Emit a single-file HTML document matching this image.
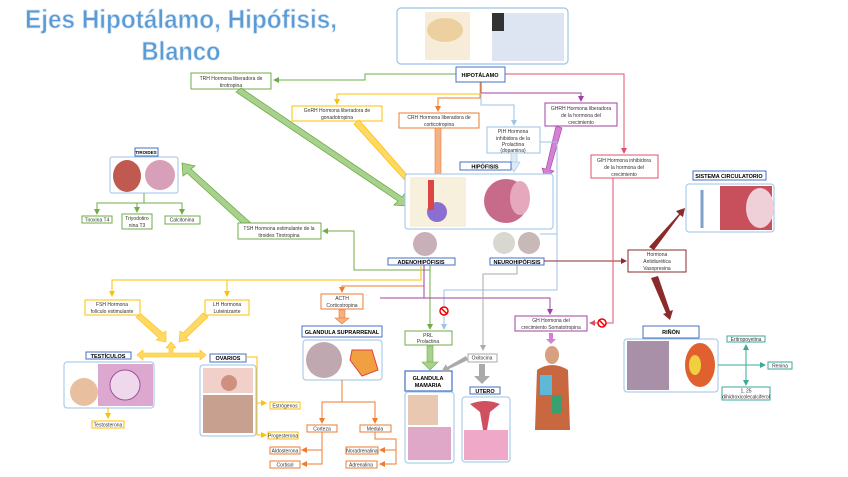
<!DOCTYPE html>
<html><head><meta charset="utf-8"><style>
html,body{margin:0;padding:0;background:#fff;width:848px;height:477px;overflow:hidden}
svg{display:block}
text{font-family:"Liberation Sans",sans-serif}
.t{font-size:5px;fill:#333;text-anchor:middle}
.lb{font-size:5.5px;font-weight:bold;fill:#000;text-anchor:middle}
</style></head><body>
<svg width="848" height="477" viewBox="0 0 848 477" xmlns="http://www.w3.org/2000/svg">
<defs>
<marker id="ag" markerWidth="6" markerHeight="6" refX="5" refY="3" orient="auto"><path d="M0,0L6,3L0,6z" fill="#70ad47"/></marker>
<marker id="ay" markerWidth="6" markerHeight="6" refX="5" refY="3" orient="auto"><path d="M0,0L6,3L0,6z" fill="#ffc000"/></marker>
<marker id="ao" markerWidth="6" markerHeight="6" refX="5" refY="3" orient="auto"><path d="M0,0L6,3L0,6z" fill="#ed7d31"/></marker>
<marker id="ab" markerWidth="6" markerHeight="6" refX="5" refY="3" orient="auto"><path d="M0,0L6,3L0,6z" fill="#9dc3e6"/></marker>
<marker id="ap" markerWidth="6" markerHeight="6" refX="5" refY="3" orient="auto"><path d="M0,0L6,3L0,6z" fill="#a040a0"/></marker>
<marker id="ak" markerWidth="6" markerHeight="6" refX="5" refY="3" orient="auto"><path d="M0,0L6,3L0,6z" fill="#e0506e"/></marker>
<marker id="ar" markerWidth="6" markerHeight="6" refX="5" refY="3" orient="auto"><path d="M0,0L6,3L0,6z" fill="#8b2a2a"/></marker>
<marker id="aa" markerWidth="6" markerHeight="6" refX="5" refY="3" orient="auto"><path d="M0,0L6,3L0,6z" fill="#aaa"/></marker>
<marker id="at" markerWidth="6" markerHeight="6" refX="5" refY="3" orient="auto"><path d="M0,0L6,3L0,6z" fill="#3aaa9a"/></marker>
</defs>

<!-- Title -->
<text x="181" y="28" style="font-size:26px;font-weight:bold;fill:#5b9bd5;stroke:#dbe8f6;stroke-width:0.8;text-anchor:middle" textLength="312" lengthAdjust="spacingAndGlyphs">Ejes Hipotálamo, Hipófisis,</text>
<text x="181" y="60" style="font-size:26px;font-weight:bold;fill:#5b9bd5;stroke:#dbe8f6;stroke-width:0.8;text-anchor:middle" textLength="79" lengthAdjust="spacingAndGlyphs">Blanco</text>

<!-- top image -->
<rect x="397" y="8" width="171" height="56" rx="4" fill="#fff" stroke="#9dc3e6" stroke-width="1.2"/>
<rect x="425" y="12" width="45" height="48" fill="#f7ecd8"/>
<ellipse cx="445" cy="30" rx="18" ry="12" fill="#ecd0a0"/>
<rect x="492" y="13" width="72" height="48" fill="#dde4f2"/>
<rect x="492" y="13" width="12" height="18" fill="#333"/>

<!-- lines from hipotalamo -->
<polyline points="456,74 365,74 365,80 274,80" fill="none" stroke="#70ad47" stroke-width="1" marker-end="url(#ag)"/>
<polyline points="480,82 480,94 337,94 337,104" fill="none" stroke="#ffc000" stroke-width="1" marker-end="url(#ay)"/>
<polyline points="480,94 480,98 438,98 438,111" fill="none" stroke="#ed7d31" stroke-width="1" marker-end="url(#ao)"/>
<polyline points="481,94 481,105 514,105 514,125" fill="none" stroke="#9dc3e6" stroke-width="1" marker-end="url(#ab)"/>
<polyline points="481,82 481,93 581,93 581,101" fill="none" stroke="#a040a0" stroke-width="1" marker-end="url(#ap)"/>
<polyline points="505,74 624,74 624,153" fill="none" stroke="#e0506e" stroke-width="1" marker-end="url(#ak)"/>

<rect x="456" y="67" width="49" height="15" fill="#fff" stroke="#4472c4" stroke-width="1"/>
<text class="lb" x="480" y="77">HIPOTÁLAMO</text>

<rect x="191" y="73" width="80" height="16" fill="#fff" stroke="#70ad47"/>
<text class="t" x="231" y="80">TRH Hormona liberadora de</text><text class="t" x="231" y="87">tirotropina</text>
<rect x="292" y="106" width="90" height="15" fill="#fff" stroke="#ffc000"/>
<text class="t" x="337" y="112">GnRH Hormona liberadora de</text><text class="t" x="337" y="119">gonadotropina</text>
<rect x="399" y="113" width="80" height="15" fill="#fff" stroke="#ed7d31"/>
<text class="t" x="439" y="119">CRH Hormona liberadora de</text><text class="t" x="439" y="126">corticotropina</text>
<rect x="487" y="127" width="53" height="26" fill="#fff" stroke="#9dc3e6"/>
<text class="t" x="513" y="133">PIH Hormona</text><text class="t" x="513" y="140">inhibidora de la</text><text class="t" x="513" y="146">Prolactina</text><text class="t" x="513" y="152">(dopamina)</text>
<rect x="545" y="103" width="72" height="23" fill="#fff" stroke="#a040a0"/>
<text class="t" x="581" y="110">GHRH Hormona liberadora</text><text class="t" x="581" y="117">de la hormona del</text><text class="t" x="581" y="124">crecimiento</text>
<rect x="591" y="155" width="67" height="23" fill="#fff" stroke="#e0506e"/>
<text class="t" x="624" y="162">GIH Hormona inhibidora</text><text class="t" x="624" y="169">de la hormona del</text><text class="t" x="624" y="176">crecimiento</text>

<!-- big arrows -->
<polygon points="236,92 241,88 402,197 405,193 408,206 394,205 398,201" fill="#a9d18e" stroke="#70ad47" stroke-width="0.8"/>
<polygon points="354,124 359,120 415,184 418,181 418,193 407,189 411,187" fill="#ffd966" stroke="#ffc000" stroke-width="0.8"/>
<rect x="435" y="128" width="6" height="48" fill="#f4b183" stroke="#ed7d31" stroke-width="0.6"/>
<polygon points="431,176 445,176 438,184" fill="#f4b183" stroke="#ed7d31" stroke-width="0.6"/>
<polygon points="556,126 562,128 550,170 554,171 545,178 542,168 546,169" fill="#d580d5" stroke="#a040a0" stroke-width="0.6"/>
<rect x="511" y="153" width="6" height="9" fill="#ddebf7" stroke="#9dc3e6" stroke-width="0.6"/>
<polygon points="508,162 520,162 514,172" fill="#ddebf7" stroke="#9dc3e6" stroke-width="0.6"/>
<polygon points="252,224 247,228 187,173 183,176 182,163 195,166 191,169" fill="#a9d18e" stroke="#70ad47" stroke-width="0.8"/>

<!-- hipofisis -->
<rect x="460" y="162" width="51" height="8" fill="#fff" stroke="#4472c4"/>
<text class="lb" x="485" y="168.5">HIPÓFISIS</text>
<rect x="405" y="174" width="148" height="55" rx="3" fill="#fff" stroke="#9dc3e6"/>
<rect x="410" y="177" width="56" height="50" fill="#f7f0dc"/>
<circle cx="437" cy="212" r="10" fill="#8a6fd0"/>
<rect x="428" y="180" width="6" height="30" fill="#d44"/>
<circle cx="506" cy="201" r="22" fill="#c86a8a"/>
<ellipse cx="520" cy="198" rx="10" ry="17" fill="#e6a8bc"/>

<circle cx="425" cy="244" r="12" fill="#c9b0b8"/>
<circle cx="504" cy="243" r="11" fill="#d8d8d0"/>
<circle cx="529" cy="243" r="11" fill="#c9b8b8"/>
<rect x="388" y="258" width="67" height="7" fill="#fff" stroke="#4472c4"/>
<text class="lb" x="421" y="264">ADENOHIPÓFISIS</text>
<rect x="490" y="258" width="54" height="7" fill="#fff" stroke="#4472c4"/>
<text class="lb" x="517" y="264">NEUROHIPÓFISIS</text>

<!-- TSH -->
<polyline points="430,270 354,270 354,231 323,231" fill="none" stroke="#70ad47" stroke-width="1" marker-end="url(#ag)"/>
<rect x="238" y="223" width="83" height="16" fill="#fff" stroke="#70ad47"/>
<text class="t" x="279" y="230">TSH Hormona estimulante de la</text><text class="t" x="279" y="237">tiroides Tirotropina</text>

<!-- tiroides -->
<rect x="135" y="148" width="23" height="8" fill="#fff" stroke="#4472c4"/>
<text class="lb" x="146" y="154" style="font-size:4.5px">TIROIDES</text>
<rect x="110" y="157" width="68" height="36" rx="2" fill="#fff" stroke="#9dc3e6"/>
<ellipse cx="127" cy="176" rx="14" ry="16" fill="#c05a50"/>
<circle cx="160" cy="175" r="15" fill="#d8a0b8"/>
<polyline points="144,193 144,203 97,203 97,214" fill="none" stroke="#70ad47" marker-end="url(#ag)"/>
<polyline points="144,203 137,203 137,212" fill="none" stroke="#70ad47" marker-end="url(#ag)"/>
<polyline points="144,203 182,203 182,214" fill="none" stroke="#70ad47" marker-end="url(#ag)"/>
<rect x="82" y="216" width="30" height="7" fill="#fff" stroke="#70ad47"/><text class="t" x="97" y="221.5">Tiroxina T4</text>
<rect x="122" y="214" width="30" height="15" fill="#fff" stroke="#70ad47"/><text class="t" x="137" y="220">Triyodotiro</text><text class="t" x="137" y="227">nina T3</text>
<rect x="165" y="216" width="35" height="8" fill="#fff" stroke="#70ad47"/><text class="t" x="182" y="221.5">Calcitonina</text>

<!-- yellow branch -->
<polyline points="421,265 421,280 112,280 112,296" fill="none" stroke="#ffc000" marker-end="url(#ay)"/>
<polyline points="227,280 227,296" fill="none" stroke="#ffc000" marker-end="url(#ay)"/>
<rect x="85" y="300" width="55" height="15" fill="#fff" stroke="#ffc000"/><text class="t" x="112" y="306">FSH Hormona</text><text class="t" x="112" y="313">folículo estimulante</text>
<rect x="205" y="300" width="44" height="15" fill="#fff" stroke="#ffc000"/><text class="t" x="227" y="306">LH Hormona</text><text class="t" x="227" y="313">Luteinizante</text>
<polygon points="136,317 141,314 163,333 166,331 166,342 156,340 159,338" fill="#ffd966" stroke="#ffc000" stroke-width="0.6"/>
<polygon points="208,317 203,313 183,333 180,331 179,342 189,340 186,338" fill="#ffd966" stroke="#ffc000" stroke-width="0.6"/>
<polygon points="137,355 143,350 143,353 169,353 169,348 166,348 171,342 176,348 173,348 173,353 200,353 200,350 206,355 200,360 200,357 143,357 143,360" fill="#ffd966" stroke="#ffc000" stroke-width="0.6"/>

<rect x="86" y="352" width="45" height="7" fill="#fff" stroke="#4472c4"/><text class="lb" x="108" y="358">TESTÍCULOS</text>
<rect x="64" y="362" width="90" height="46" rx="3" fill="#fff" stroke="#9dc3e6"/>
<ellipse cx="84" cy="392" rx="14" ry="14" fill="#e8c0a0"/>
<rect x="98" y="364" width="55" height="42" fill="#dca8d0"/>
<circle cx="125" cy="385" r="15" fill="#f0d8ec" stroke="#a050a0"/>
<polyline points="108,408 108,418" fill="none" stroke="#ffc000" marker-end="url(#ay)"/>
<rect x="92" y="421" width="32" height="7" fill="#fff" stroke="#ffc000"/><text class="t" x="108" y="426.5">Testosterona</text>

<rect x="210" y="354" width="36" height="8" fill="#fff" stroke="#4472c4"/><text class="lb" x="228" y="360">OVARIOS</text>
<rect x="200" y="365" width="56" height="71" rx="3" fill="#fff" stroke="#9dc3e6"/>
<rect x="203" y="368" width="50" height="25" fill="#f0d0c8"/><circle cx="229" cy="383" r="8" fill="#d09080"/>
<rect x="203" y="395" width="50" height="38" fill="#c8a090"/>
<polyline points="246,357 257,357 257,435 266,435" fill="none" stroke="#ffc000"/>
<polyline points="257,403 266,403" fill="none" stroke="#ffc000" marker-end="url(#ay)"/>
<polyline points="257,435 266,435" fill="none" stroke="#ffc000" marker-end="url(#ay)"/>
<rect x="270" y="402" width="30" height="7" fill="#fff" stroke="#ffc000"/><text class="t" x="285" y="407.5">Estrógenos</text>
<rect x="268" y="432" width="30" height="7" fill="#fff" stroke="#ffc000"/><text class="t" x="283" y="437.5">Progesterona</text>

<!-- ACTH -->
<polyline points="424,265 424,286 342,286 342,292" fill="none" stroke="#ed7d31" marker-end="url(#ao)"/>
<rect x="321" y="294" width="42" height="15" fill="#fff" stroke="#ed7d31"/><text class="t" x="342" y="300">ACTH</text><text class="t" x="342" y="307">Corticotropina</text>
<rect x="339" y="310" width="6" height="8" fill="#f4b183" stroke="#ed7d31" stroke-width="0.6"/>
<polygon points="335,318 349,318 342,324" fill="#f4b183" stroke="#ed7d31" stroke-width="0.6"/>
<rect x="302" y="326" width="80" height="11" fill="#fff" stroke="#4472c4"/><text class="lb" x="342" y="334">GLANDULA SUPRARRENAL</text>
<rect x="303" y="340" width="79" height="40" rx="3" fill="#fff" stroke="#9dc3e6"/>
<circle cx="324" cy="360" r="18" fill="#c0a8b0"/>
<polygon points="352,350 372,350 378,370 362,376 350,360" fill="#f0a040" stroke="#e04040"/>
<polyline points="342,380 342,402 322,402 322,423" fill="none" stroke="#ed7d31" marker-end="url(#ao)"/>
<polyline points="342,402 375,402 375,423" fill="none" stroke="#ed7d31" marker-end="url(#ao)"/>
<rect x="307" y="425" width="30" height="7" fill="#fff" stroke="#ed7d31"/><text class="t" x="322" y="430.5">Corteza</text>
<rect x="360" y="425" width="31" height="7" fill="#fff" stroke="#ed7d31"/><text class="t" x="375" y="430.5">Medula</text>
<polyline points="322,432 322,464 302,464" fill="none" stroke="#ed7d31" marker-end="url(#ao)"/>
<polyline points="322,450 302,450" fill="none" stroke="#ed7d31" marker-end="url(#ao)"/>
<polyline points="375,432 375,439 396,439 396,464 380,464" fill="none" stroke="#ed7d31" marker-end="url(#ao)"/>
<polyline points="396,450 380,450" fill="none" stroke="#ed7d31" marker-end="url(#ao)"/>
<rect x="270" y="447" width="30" height="7" fill="#fff" stroke="#ed7d31"/><text class="t" x="285" y="452.5">Aldosterona</text>
<rect x="270" y="461" width="30" height="7" fill="#fff" stroke="#ed7d31"/><text class="t" x="285" y="466.5">Cortisol</text>
<rect x="346" y="447" width="32" height="7" fill="#fff" stroke="#ed7d31"/><text class="t" x="362" y="452.5">Noradrenalina</text>
<rect x="346" y="461" width="31" height="7" fill="#fff" stroke="#ed7d31"/><text class="t" x="361" y="466.5">Adrenalina</text>

<!-- PRL -->
<polyline points="430,265 430,329" fill="none" stroke="#70ad47" marker-end="url(#ag)"/>
<polyline points="540,234 557,234 557,290 444,290 444,329" fill="none" stroke="#9dc3e6" marker-end="url(#ab)"/>
<polyline points="540,142 557,142 557,234" fill="none" stroke="#9dc3e6"/>
<polyline points="380,298 550,298 550,314" fill="none" stroke="#a040a0" marker-end="url(#ap)"/>
<polyline points="424,265 424,298" fill="none" stroke="#a040a0"/>
<circle cx="444" cy="311" r="4" fill="#fff" stroke="#e00" stroke-width="1.5"/><line x1="441" y1="308" x2="447" y2="314" stroke="#e00" stroke-width="1.5"/>
<rect x="405" y="331" width="47" height="14" fill="#fff" stroke="#70ad47"/><text class="t" x="428" y="337">PRL</text><text class="t" x="428" y="343">Prolactina</text>
<rect x="427" y="346" width="6" height="16" fill="#a9d18e" stroke="#70ad47" stroke-width="0.6"/>
<polygon points="422,362 438,362 430,370" fill="#a9d18e" stroke="#70ad47" stroke-width="0.6"/>
<rect x="405" y="371" width="47" height="20" fill="#fff" stroke="#4472c4" stroke-width="1.2"/><text class="lb" x="428" y="380">GLANDULA</text><text class="lb" x="428" y="387">MAMARIA</text>
<rect x="405" y="392" width="49" height="71" rx="3" fill="#fff" stroke="#9dc3e6"/>
<rect x="408" y="395" width="30" height="30" fill="#e8c8b0"/>
<rect x="408" y="427" width="43" height="33" fill="#e0a8c8"/>

<!-- neuro lines -->
<polyline points="517,265 517,274 483,274 483,350" fill="none" stroke="#aaa" marker-end="url(#aa)"/>
<rect x="468" y="354" width="29" height="8" fill="#fff" stroke="#aaa"/><text class="t" x="482" y="359.5">Oxitocina</text>
<polygon points="466,356 468,360 449,369 451,372 441,372 446,364 447,367" fill="#aaa"/>
<rect x="479" y="364" width="6" height="12" fill="#aaa"/><polygon points="474,376 490,376 482,384" fill="#aaa"/>
<rect x="470" y="387" width="30" height="7" fill="#fff" stroke="#4472c4"/><text class="lb" x="485" y="393">UTERO</text>
<rect x="462" y="397" width="48" height="65" rx="3" fill="#fff" stroke="#9dc3e6"/>
<path d="M470,404 Q485,398 500,404 L490,412 L487,430 L483,430 L480,412z" fill="#d05060"/>
<rect x="464" y="430" width="44" height="30" fill="#f0a8c8"/>

<polyline points="544,261 626,261" fill="none" stroke="#8b2a2a" marker-end="url(#ar)"/>
<rect x="628" y="250" width="58" height="22" fill="#fff" stroke="#8b2a2a"/><text class="t" x="657" y="256">Hormona</text><text class="t" x="657" y="263">Antidiurética</text><text class="t" x="657" y="270">Vasopresina</text>
<polygon points="649,247 679,214 676,211 685,208 683,217 680,215 654,250" fill="#8b2a2a"/>
<polygon points="651,278 658,276 670,311 673,310 670,320 663,314 666,313" fill="#8b2a2a"/>

<!-- GH -->
<polyline points="613,178 613,323 590,323" fill="none" stroke="#e0506e" marker-end="url(#ak)"/>
<circle cx="602" cy="323" r="4" fill="#fff" stroke="#e00" stroke-width="1.5"/><line x1="599" y1="320" x2="605" y2="326" stroke="#e00" stroke-width="1.5"/>
<rect x="515" y="316" width="72" height="15" fill="#fff" stroke="#a040a0"/><text class="t" x="551" y="322">GH Hormona del</text><text class="t" x="551" y="329">crecimiento Somatotropina</text>
<rect x="549" y="333" width="4" height="6" fill="#d580d5"/><polygon points="546,339 556,339 551,344" fill="#d580d5"/>
<ellipse cx="552" cy="355" rx="7" ry="9" fill="#d8a080"/>
<path d="M537,370 Q552,360 568,370 L570,430 L535,430z" fill="#c86840"/>
<rect x="540" y="375" width="12" height="20" fill="#60b8d8"/>
<rect x="552" y="395" width="10" height="18" fill="#3aa070"/>

<!-- circulatorio -->
<rect x="693" y="171" width="73" height="9" fill="#fff" stroke="#4472c4"/><text class="lb" x="729" y="178">SISTEMA CIRCULATORIO</text>
<rect x="686" y="184" width="88" height="48" rx="3" fill="#fff" stroke="#9dc3e6"/>
<rect x="720" y="186" width="52" height="44" fill="#c8505c"/>
<ellipse cx="760" cy="208" rx="14" ry="20" fill="#f0d0d8"/>
<line x1="702" y1="190" x2="702" y2="228" stroke="#80a0c8" stroke-width="3"/>

<!-- riñon -->
<rect x="643" y="326" width="56" height="12" fill="#fff" stroke="#4472c4"/><text class="lb" x="671" y="334">RIÑÓN</text>
<rect x="624" y="339" width="94" height="53" rx="3" fill="#fff" stroke="#9dc3e6"/>
<rect x="627" y="341" width="42" height="49" fill="#a890a8"/>
<ellipse cx="700" cy="365" rx="15" ry="22" fill="#e06030"/>
<ellipse cx="695" cy="365" rx="6" ry="10" fill="#f0d040"/>
<polyline points="718,365 765,365" fill="none" stroke="#3aaa9a" marker-end="url(#at)"/>
<polyline points="746,365 746,345" fill="none" stroke="#3aaa9a" marker-end="url(#at)"/>
<polyline points="746,365 746,385" fill="none" stroke="#3aaa9a" marker-end="url(#at)"/>
<rect x="727" y="336" width="38" height="6" fill="#fff" stroke="#3aaa9a"/><text class="t" x="746" y="341">Eritropoyetina</text>
<rect x="768" y="362" width="24" height="7" fill="#fff" stroke="#3aaa9a"/><text class="t" x="780" y="367.5">Renina</text>
<rect x="722" y="387" width="48" height="13" fill="#fff" stroke="#3aaa9a"/><text class="t" x="746" y="392.5">1, 25</text><text class="t" x="746" y="398.5">dihidroxicolecalciferol</text>
</svg>
</body></html>
